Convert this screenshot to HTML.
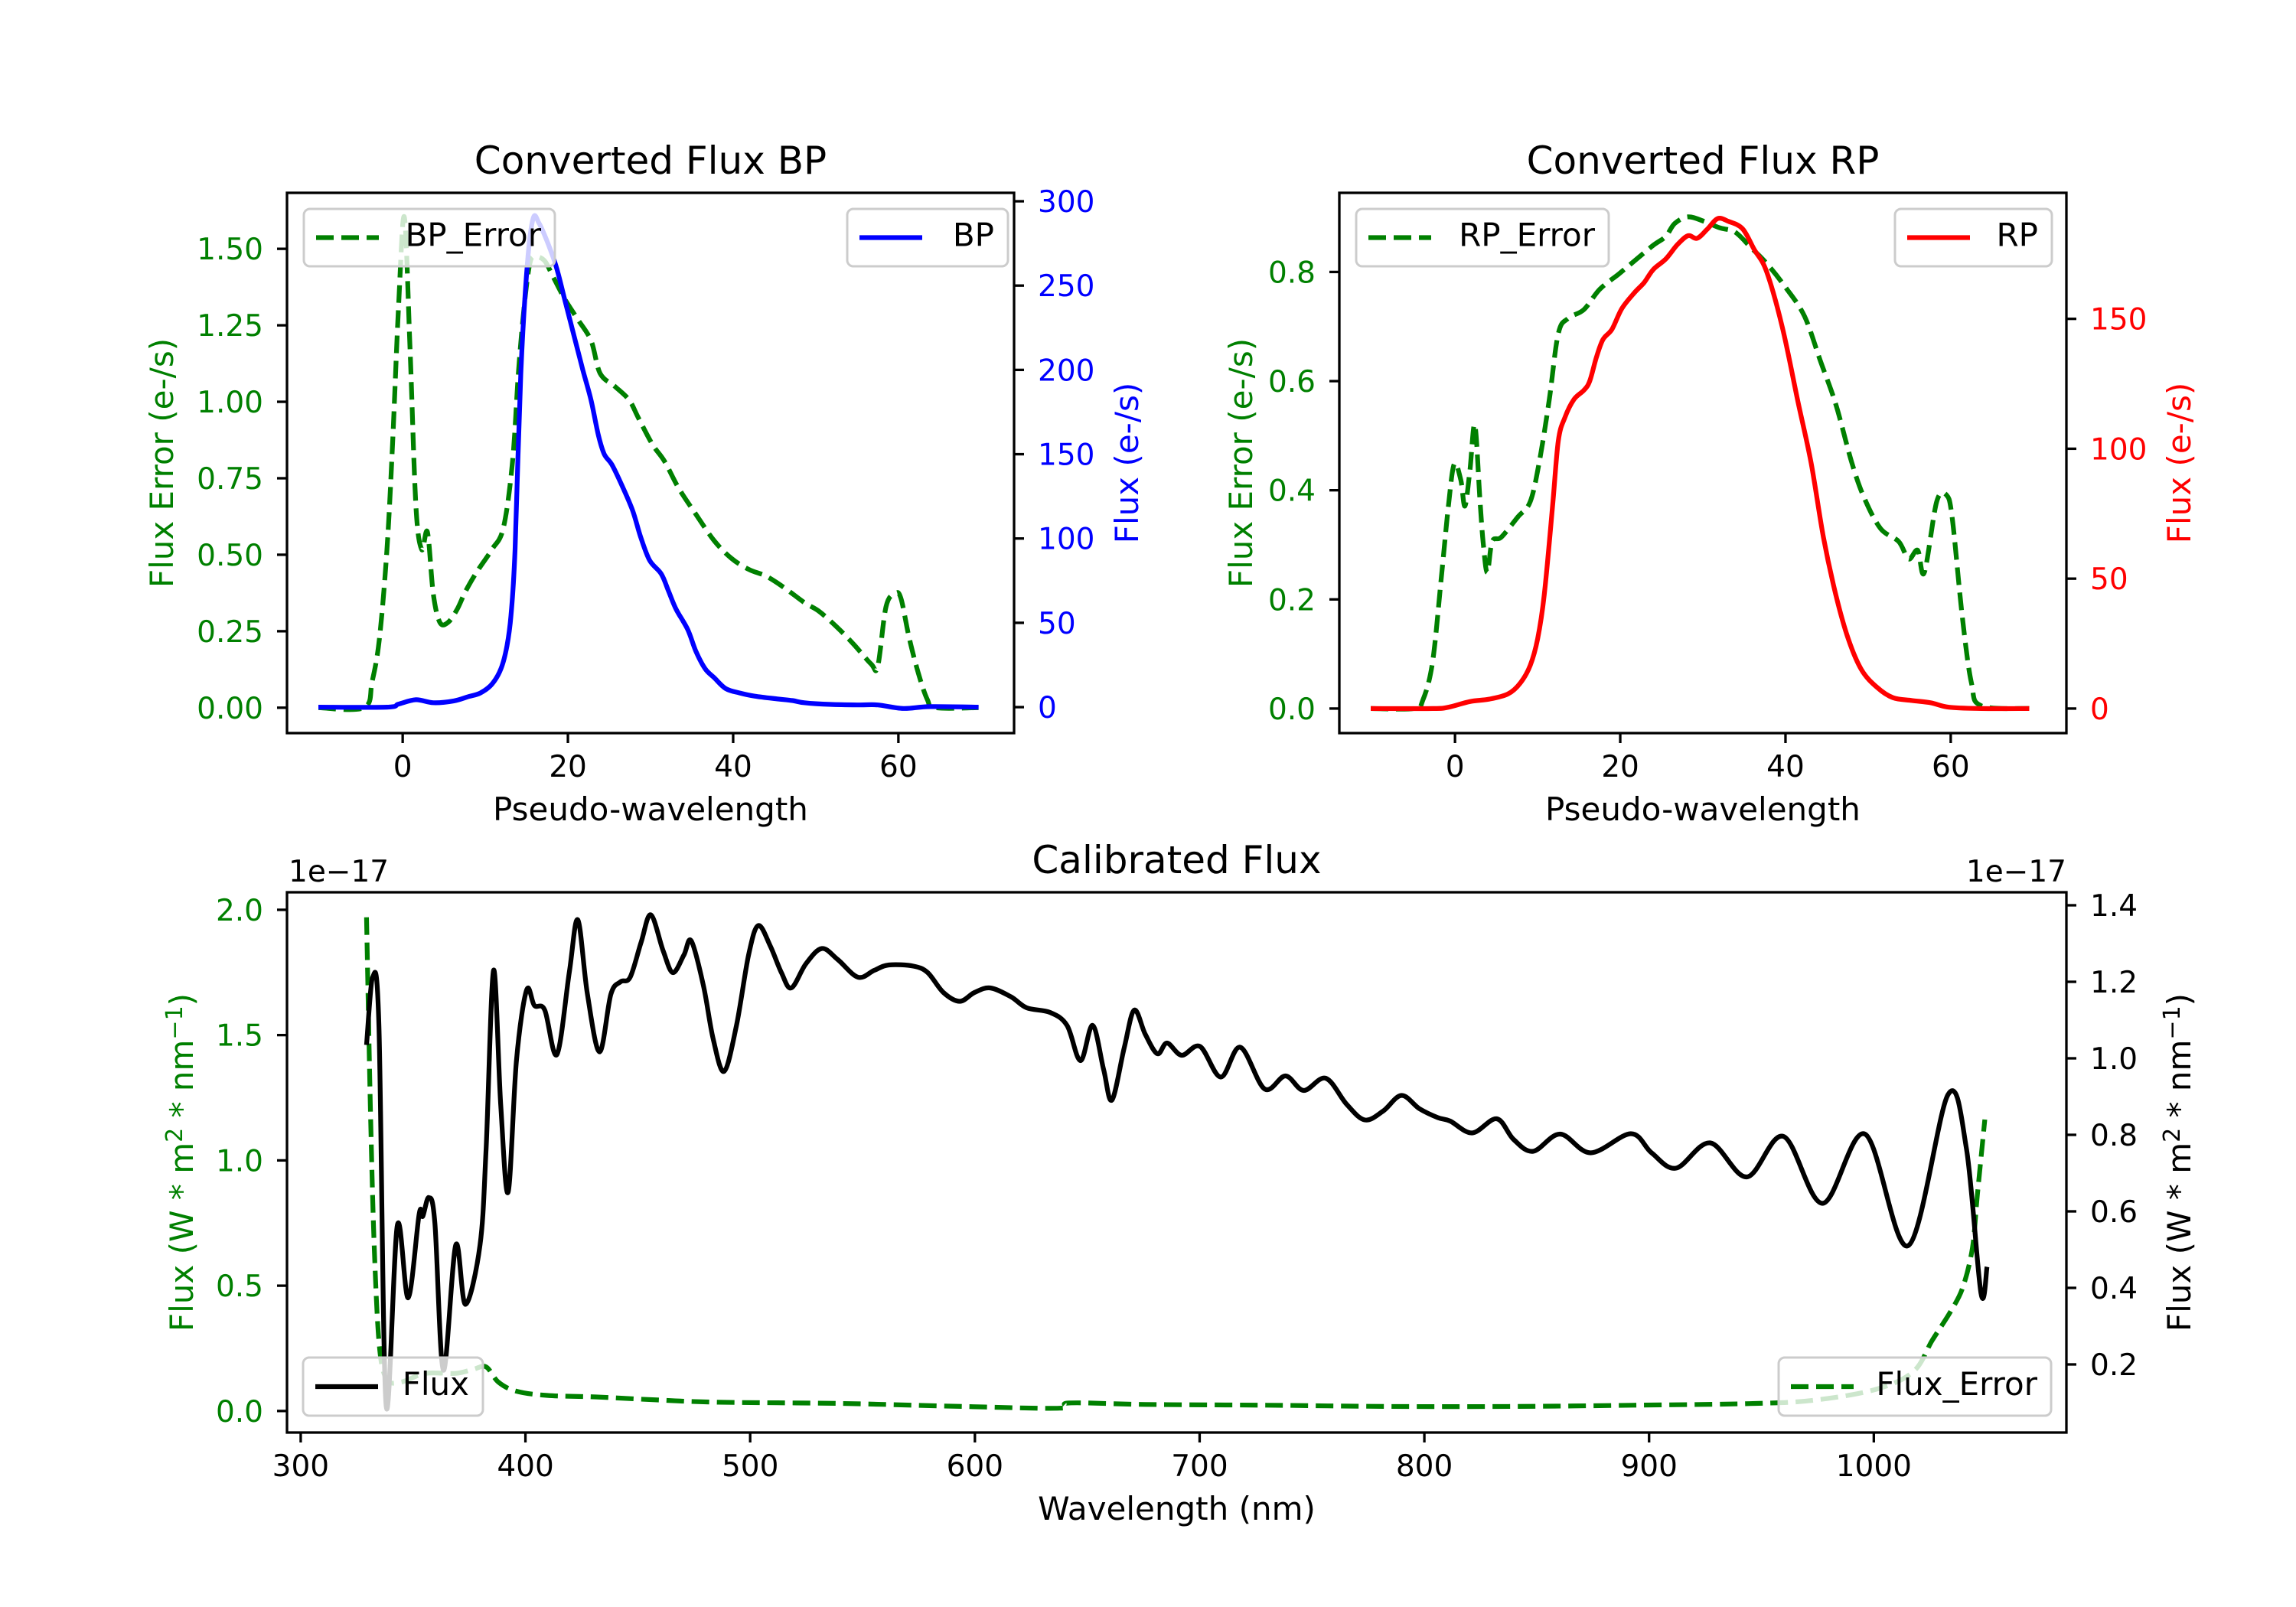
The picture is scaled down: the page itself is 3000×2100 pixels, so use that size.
<!DOCTYPE html>
<html><head><meta charset="utf-8"><style>
html,body{margin:0;padding:0;background:#fff}
svg{display:block}
text{font-family:"DejaVu Sans","Liberation Sans",sans-serif}
</style></head><body>
<svg id="fig" width="3000" height="2100" viewBox="0 0 3000 2100" xmlns="http://www.w3.org/2000/svg">
<rect width="3000" height="2100" fill="#fff"/>
</svg>
<script>
// ---------- BP panel data ----------
const bpX = [-10.2,-1.9,-0.5,1.6,3.7,6.2,8,9.4,10.8,11.9,12.6,13.1,13.6,14.3,15.1,15.8,16.5,17.5,18.6,19.6,20.7,21.8,22.8,23.7,24.4,25.3,26.4,27.8,28.8,29.9,31.3,32.2,33.1,34.5,35.5,36.6,37.7,39.1,40.8,42.6,45.1,47.2,48.6,51.8,55.3,57.5,60.6,63.8,69.7];
const bpFlux = [0,0,1.8,4.4,2.6,3.7,6.3,8.4,13.6,22.8,35.8,54.1,93.4,198,263,290,287,276,261,242,221,200,182,161,150,144,133,117,101,87,79,68.5,58,46,33,22.8,17.5,11,8.4,6.5,5,3.9,2.6,1.6,1.3,1.3,-0.8,0.3,0];
const bpErrX = [-10.2,-4.7,-3.7,-2.8,-1.9,-1.2,-0.5,0.2,0.9,1.6,2.3,3.0,3.7,4.5,5.5,6.6,7.6,9.0,10.8,12.2,13.3,14.0,14.7,15.4,16.1,17.2,18.2,19.6,21.1,22.8,23.9,25.7,27.4,28.5,30.2,31.7,33.4,35.5,37.7,39.8,41.9,44.0,46.1,48.6,50.4,52.5,54.6,56.7,57.5,58.5,59.6,60.3,61.3,62.4,63.5,64.5,69.7];
const bpErr = [0,0,0.085,0.229,0.517,0.877,1.309,1.604,1.165,0.661,0.517,0.574,0.373,0.279,0.279,0.322,0.38,0.445,0.517,0.589,0.805,1.093,1.309,1.453,1.474,1.46,1.409,1.337,1.273,1.2,1.093,1.05,1.006,0.949,0.862,0.805,0.718,0.632,0.546,0.488,0.452,0.43,0.394,0.344,0.315,0.265,0.207,0.143,0.135,0.33,0.373,0.358,0.229,0.114,0.027,0,0];
// ---------- RP panel data ----------
const rpX = [-10.2,-2.7,-0.8,1.8,4.1,6.4,7.9,9.1,10.0,10.8,11.8,12.5,13.3,14.4,15.6,16.3,17.1,17.9,19.0,20.2,21.7,22.9,24.0,25.5,26.9,28.2,29.3,30.5,31.8,33.1,34.8,36.2,37.7,39.6,41.5,43.1,44.6,46.1,47.6,49.2,51.1,53.0,55.3,57.6,59.8,63.7,69.5];
const rpFlux = [0,0,0.5,2.7,3.6,5.6,9.8,16.6,26.8,43.7,77.6,103,112,119,122.5,126,135,142,146,154,160,164,169,173,178.5,182,181,184.4,188.6,187.5,184.7,176.8,168.3,147,118.3,94.6,65.8,43.7,26.8,14.9,8.1,4.2,3.1,2.2,0.5,0,0];
const rpErrX = [-10.2,-5,-3.9,-2.7,-1.6,-0.8,-0.1,0.7,1.2,1.8,2.4,3.0,3.4,3.9,4.5,5.6,7.6,9.1,10.2,11.4,12.5,13.7,15.6,17.5,19.8,21.7,24.0,25.5,26.6,28.2,30.1,32.0,33.9,35.8,37.7,40.0,42.3,44.2,46.1,48.0,49.5,51.5,53.7,54.9,56.0,56.8,58.3,59.5,60.2,61.4,62.5,63.7,69.5];
const rpErr = [0,0,0.015,0.087,0.249,0.371,0.448,0.419,0.371,0.436,0.52,0.387,0.306,0.249,0.306,0.314,0.351,0.379,0.452,0.565,0.687,0.715,0.731,0.768,0.796,0.82,0.849,0.865,0.889,0.901,0.893,0.881,0.873,0.845,0.816,0.772,0.719,0.638,0.557,0.452,0.387,0.33,0.306,0.274,0.29,0.249,0.379,0.391,0.347,0.168,0.047,0.005,0];
// ---------- Calibrated panel data (units of 1e-17) ----------
const calX = [329.3,332,334.8,338,343,347.8,352.7,354.3,357,359.7,363.5,369,373.3,379.8,382.5,385.8,389,392.3,396,400.5,404,408.6,414,419.5,423.3,427.6,433,438,442.3,446.6,451.5,455.8,461.3,465.6,470.5,473.8,479.2,483.5,488.4,493.9,499.3,503.6,509,513.9,518.3,524.8,531.9,539,548,555.2,561.7,572.6,579,586,593.3,599.8,606.8,616,623.1,633.4,641,647,652.4,657.3,661,666.5,670.9,675.8,681.2,685.5,692,700.2,709.4,718.1,728.9,738.2,746.3,756.1,765.4,773.5,781.6,789.8,797.9,806,811.5,821.3,832.2,839.7,848.4,860.4,874,891.9,901.1,912,927.2,943.5,959.8,977.2,996.1,1015.2,1033,1041.2,1047.7,1050.4];
const calFlux = [1.035,1.212,1.086,0.093,0.564,0.374,0.593,0.587,0.636,0.57,0.185,0.512,0.357,0.512,0.765,1.23,0.88,0.65,0.994,1.178,1.138,1.126,1.01,1.224,1.362,1.167,1.017,1.167,1.2,1.212,1.304,1.375,1.281,1.224,1.27,1.307,1.19,1.052,0.966,1.086,1.27,1.347,1.293,1.224,1.184,1.247,1.287,1.258,1.212,1.23,1.244,1.241,1.224,1.172,1.149,1.172,1.184,1.161,1.132,1.12,1.086,0.994,1.086,0.97,0.891,1.029,1.126,1.063,1.012,1.04,1.008,1.031,0.951,1.029,0.92,0.954,0.916,0.948,0.88,0.839,0.862,0.903,0.868,0.845,0.836,0.805,0.842,0.788,0.757,0.802,0.753,0.803,0.753,0.713,0.779,0.69,0.796,0.621,0.802,0.51,0.905,0.765,0.386,0.455];
const calErrX = [329.3,331,332.6,334.8,338,344.5,355.4,369,377,382.5,388,396,409.7,431.4,458.6,485.7,540,594.3,637.7,642,675.8,730,784.4,838.7,893,947.3,974.4,1001.6,1017.8,1026,1034.1,1039.6,1043.9,1046.1,1049.4];
const calErr = [1.97,1.216,0.687,0.28,0.13,0.115,0.15,0.15,0.167,0.176,0.115,0.079,0.062,0.056,0.044,0.035,0.03,0.018,0.011,0.032,0.026,0.023,0.018,0.018,0.023,0.03,0.044,0.088,0.159,0.282,0.396,0.493,0.652,0.863,1.163];
// ---------- ticks ----------
const pwTicks = [0,20,40,60];
const bpErrTicks = [0,0.25,0.5,0.75,1.0,1.25,1.5];
const bpErrTickLabels = ["0.00","0.25","0.50","0.75","1.00","1.25","1.50"];
const bpFluxTicks = [0,50,100,150,200,250,300];
const rpErrTicks = [0,0.2,0.4,0.6,0.8];
const rpErrTickLabels = ["0.0","0.2","0.4","0.6","0.8"];
const rpFluxTicks = [0,50,100,150];
const wlTicks = [300,400,500,600,700,800,900,1000];
const calErrTicks = [0,0.5,1.0,1.5,2.0];
const calErrTickLabels = ["0.0","0.5","1.0","1.5","2.0"];
const calFluxTicks = [0.2,0.4,0.6,0.8,1.0,1.2,1.4];
const calFluxTickLabels = ["0.2","0.4","0.6","0.8","1.0","1.2","1.4"];

const NS = "http://www.w3.org/2000/svg";
const fig = document.getElementById('fig');
const GREEN = "#008000";
function mk(tag, attrs, parent){
  const e = document.createElementNS(NS, tag);
  for (const k in attrs) e.setAttribute(k, attrs[k]);
  (parent||fig).appendChild(e);
  return e;
}
function lin(d0,d1,r0,r1){ return v => r0 + (v-d0)*(r1-r0)/(d1-d0); }
function smoothPath(xs, ys, sx, sy){
  const P = xs.map((x,i)=>[sx(x), sy(ys[i])]);
  let d = "M"+P[0][0].toFixed(1)+","+P[0][1].toFixed(1);
  for (let i=0;i<P.length-1;i++){
    const p0=P[Math.max(0,i-1)], p1=P[i], p2=P[i+1], p3=P[Math.min(P.length-1,i+2)];
    const c1=[p1[0]+(p2[0]-p0[0])/6, p1[1]+(p2[1]-p0[1])/6];
    const c2=[p2[0]-(p3[0]-p1[0])/6, p2[1]-(p3[1]-p1[1])/6];
    d += "C"+c1[0].toFixed(1)+","+c1[1].toFixed(1)+" "+c2[0].toFixed(1)+","+c2[1].toFixed(1)+" "+p2[0].toFixed(1)+","+p2[1].toFixed(1);
  }
  return d;
}
function txt(x,y,s,attrs){
  const t = mk('text', Object.assign({x:x,y:y}, attrs));
  t.textContent = s;
  return t;
}
function legend(x,y,w,h,label,color,dashed,name){
  const g = mk('g', {});
  
  
  mk('rect', {x:x,y:y,width:w,height:h,rx:8,fill:"rgba(255,255,255,0.8)",stroke:"#cccccc","stroke-width":3}, g);
  mk('line', {x1:x+16,x2:x+98,y1:y+h/2,y2:y+h/2,stroke:color,"stroke-width":6.2,"stroke-dasharray":dashed?"23 10":"none"}, g);
  const t = mk('text', {x:x+w-18,y:y+h/2+11,"font-size":42,"text-anchor":"end",fill:"#000"}, g);
  t.textContent = label;
}

function panel(cfg){
  const {x0,x1,y0,y1,name} = cfg;
  const sx = lin(cfg.xd[0],cfg.xd[1],x0,x1);
  const syL = lin(cfg.yL[0],cfg.yL[1],y1,y0);
  const syR = lin(cfg.yR[0],cfg.yR[1],y1,y0);
  const g = mk('g', {});
  
  
  const cid = name+"-clip";
  const cp = mk('clipPath', {id:cid}, g);
  mk('rect', {x:x0,y:y0,width:x1-x0,height:y1-y0}, cp);
  const pl = mk('path', {d:smoothPath(cfg.lx, cfg.ly, sx, syL), fill:"none", stroke:GREEN, "stroke-width":6.2, "stroke-dasharray":"23 10", "clip-path":"url(#"+cid+")"}, g);
  
  
  legend(cfg.leg1[0],cfg.leg1[1],cfg.leg1[2],cfg.leg1[3],cfg.leg1[4],GREEN,true,cfg.lname+"-legend");
  const pr = mk('path', {d:smoothPath(cfg.rx, cfg.ry, sx, syR), fill:"none", stroke:cfg.rcolor, "stroke-width":6.2, "stroke-linejoin":"round", "clip-path":"url(#"+cid+")"}, g);
  
  
  legend(cfg.leg2[0],cfg.leg2[1],cfg.leg2[2],cfg.leg2[3],cfg.leg2[4],cfg.rcolor,false,cfg.rname+"-legend");
  const fr = mk('rect', {x:x0,y:y0,width:x1-x0,height:y1-y0,fill:"none",stroke:"#000","stroke-width":3.3}, g);
  
  
  cfg.xt.forEach((v,i)=>{
    const X = sx(v);
    mk('line',{x1:X,x2:X,y1:y1,y2:y1+13,stroke:"#000","stroke-width":3.3},g);
    const t = txt(X, y1+57, String(v), {"font-size":39,"text-anchor":"middle",fill:"#000"});
    
    
  });
  cfg.ylt.forEach((v,i)=>{
    const Y = syL(v);
    mk('line',{x1:x0-13,x2:x0,y1:Y,y2:Y,stroke:"#000","stroke-width":3.3},g);
    const t = txt(x0-31, Y+14, cfg.yll[i], {"font-size":39,"text-anchor":"end",fill:GREEN});
    
    
  });
  cfg.yrt.forEach((v,i)=>{
    const Y = syR(v);
    mk('line',{x1:x1,x2:x1+13,y1:Y,y2:Y,stroke:"#000","stroke-width":3.3},g);
    const t = txt(x1+31, Y+14, cfg.yrl ? cfg.yrl[i] : String(v), {"font-size":39,"text-anchor":"start",fill:cfg.rtickColor});
    
    
  });
  const tt = txt((x0+x1)/2, y0-25, cfg.title, {"font-size":50,"text-anchor":"middle",fill:"#000"});
  
  
  const xl = txt((x0+x1)/2, y1+114, cfg.xlabel, {"font-size":42,"text-anchor":"middle",fill:"#000"});
  
  
  return {sx,syL,syR};
}

panel({name:"bp-panel",x0:375,x1:1325,y0:252,y1:958,xd:[-14,74],yL:[-0.083,1.683],yR:[-15.4,305.0],
  lx:bpErrX,ly:bpErr,lname:"bp-error-line",rx:bpX,ry:bpFlux,rname:"bp-flux-line",rcolor:"#0000ff",rtickColor:"#0000ff",
  leg1:[397,273,328,75,"BP_Error"],leg2:[1107,273,210,75,"BP"],
  xt:pwTicks,ylt:bpErrTicks,yll:bpErrTickLabels,yrt:bpFluxTicks,title:"Converted Flux BP",xlabel:"Pseudo-wavelength"});
panel({name:"rp-panel",x0:1750,x1:2700,y0:252,y1:958,xd:[-14,74],yL:[-0.045,0.945],yR:[-9.45,198.5],
  lx:rpErrX,ly:rpErr,lname:"rp-error-line",rx:rpX,ry:rpFlux,rname:"rp-flux-line",rcolor:"#ff0000",rtickColor:"#ff0000",
  leg1:[1772,273,330,75,"RP_Error"],leg2:[2476,273,205,75,"RP"],
  xt:pwTicks,ylt:rpErrTicks,yll:rpErrTickLabels,yrt:rpFluxTicks,title:"Converted Flux RP",xlabel:"Pseudo-wavelength"});
panel({name:"calibrated-panel",x0:375,x1:2700,y0:1166,y1:1872,xd:[293.9,1085.7],yL:[-0.086,2.07],yR:[0.022,1.434],
  lx:calErrX,ly:calErr,lname:"flux-error-line",rx:calX,ry:calFlux,rname:"flux-line",rcolor:"#000000",rtickColor:"#000000",
  leg1:[2324,1774,356,76,"Flux_Error"],leg2:[396,1774,235,76,"Flux"],
  xt:wlTicks,ylt:calErrTicks,yll:calErrTickLabels,yrt:calFluxTicks,yrl:calFluxTickLabels,title:"Calibrated Flux",xlabel:"Wavelength (nm)"});

function rlabel(x,y,deg,color,html,name){
  const t = mk('text',{x:0,y:0,"font-size":42,"text-anchor":"middle",fill:color,transform:"translate("+x+","+y+") rotate("+deg+")"});
  t.innerHTML = html;
  
  
}
rlabel(226,605,-90,GREEN,"Flux Error (e-/s)","bp-left-y-title");
rlabel(1487,605,-90,"#0000ff","Flux (e-/s)","bp-right-y-title");
rlabel(1636,605,-90,GREEN,"Flux Error (e-/s)","rp-left-y-title");
rlabel(2862,605,-90,"#ff0000","Flux (e-/s)","rp-right-y-title");
rlabel(252,1519,-90,GREEN,'Flux (W * m<tspan dy="-14" font-size="30">2</tspan><tspan dy="14"> * nm</tspan><tspan dy="-14" font-size="30">−1</tspan><tspan dy="14">)</tspan>',"cal-left-y-title");
rlabel(2862,1519,-90,"#000000",'Flux (W * m<tspan dy="-14" font-size="30">2</tspan><tspan dy="14"> * nm</tspan><tspan dy="-14" font-size="30">−1</tspan><tspan dy="14">)</tspan>',"cal-right-y-title");
const o1 = txt(377,1152,"1e−17",{"font-size":39,"text-anchor":"start",fill:"#000"});


const o2 = txt(2700,1152,"1e−17",{"font-size":39,"text-anchor":"end",fill:"#000"});


</script>
</body></html>
